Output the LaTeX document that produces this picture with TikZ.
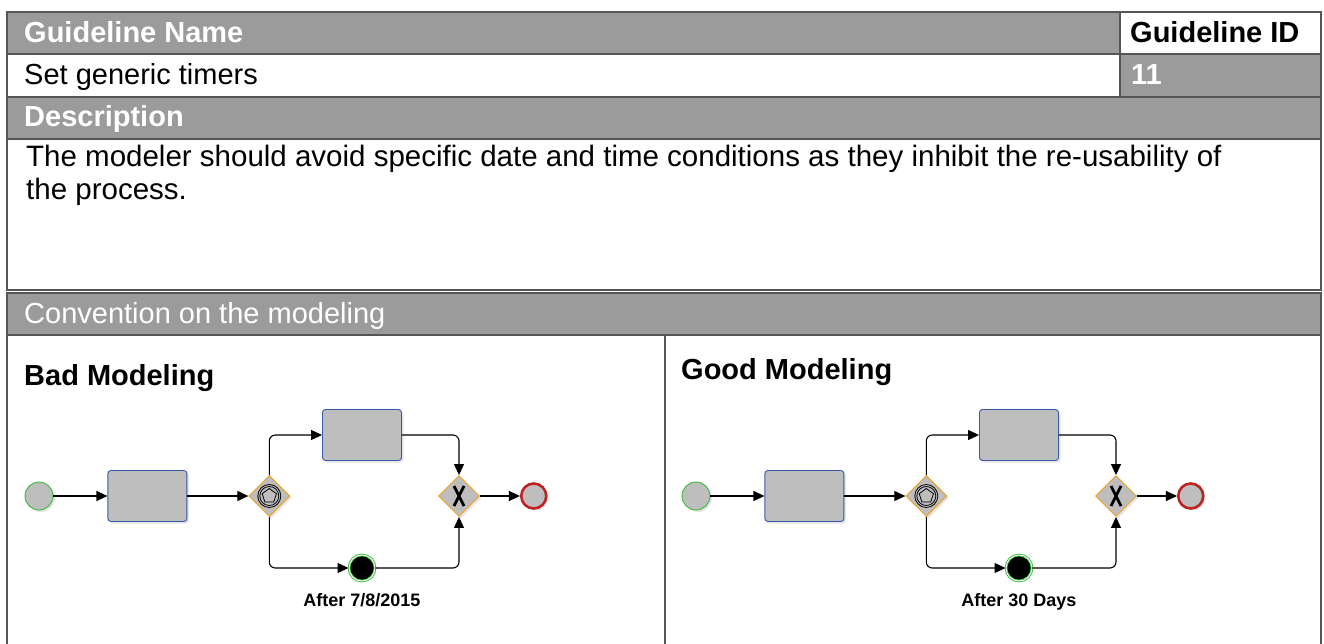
\documentclass[tikz,border=0pt]{standalone}
\usepackage{fontspec}
\setmainfont{Liberation Sans}
\usetikzlibrary{shapes.geometric, arrows.meta, positioning, shadows}

\definecolor{headgray}{RGB}{155,155,155}
\definecolor{framegray}{RGB}{85,85,85}
\definecolor{taskfill}{RGB}{190,190,190}
\definecolor{taskblue}{RGB}{55,90,170}
\definecolor{gateorange}{RGB}{240,160,35}
\definecolor{startgreen}{RGB}{60,185,60}
\definecolor{endred}{RGB}{190,35,35}

\begin{document}
\begin{tikzpicture}[x=1pt, y=-1pt,
        frame/.style={draw=framegray, line width=1.6pt},
        headtext/.style={anchor=base west, inner sep=0pt, text=white, font=\bfseries\fontsize{29}{34}\selectfont},
        celltext/.style={anchor=base west, inner sep=0pt, font=\fontsize{29}{34}\selectfont},
        task/.style={rectangle, rounded corners=3pt, draw=taskblue, fill=taskfill, line width=0.9pt, minimum width=79pt, minimum height=51pt, drop shadow={opacity=0.2, shadow xshift=2pt, shadow yshift=-2pt}},
        gateway/.style={diamond, draw=gateorange, fill=taskfill, line width=0.9pt, minimum width=41pt, minimum height=41pt, inner sep=0pt, drop shadow={opacity=0.2, shadow xshift=2pt, shadow yshift=-2pt}},
        startev/.style={circle, draw=startgreen, fill=taskfill, line width=0.9pt, minimum size=28pt, inner sep=0pt, drop shadow={opacity=0.2, shadow xshift=2pt, shadow yshift=-2pt}},
        endev/.style={circle, draw=endred, fill=taskfill, line width=2.6pt, minimum size=25pt, inner sep=0pt, drop shadow={opacity=0.2, shadow xshift=2pt, shadow yshift=-2pt}},
        timer/.style={circle, draw=startgreen, double=white, double distance=0.9pt, fill=black, line width=0.9pt, minimum size=26pt, inner sep=0pt},
        penta/.style={regular polygon, regular polygon sides=5, draw, line width=0.8pt, minimum size=15pt, inner sep=0pt},
        flow/.style={-{Triangle[length=11pt, width=10pt]}, line width=1.1pt, rounded corners=6pt},
        caption/.style={font=\bfseries\fontsize{18}{20}\selectfont, inner sep=0pt}
    ]

    % table cells
    \useasboundingbox (0,0) rectangle (1324,644);
    \fill[white] (0,0) rectangle (1324,644);
    \fill[headgray] (7,12) rectangle (1120,54);
    \fill[headgray] (1120,54) rectangle (1321,97);
    \fill[headgray] (7,97) rectangle (1321,139);
    \fill[headgray] (7,293) rectangle (1321,335);
    \draw[frame] (7,12) rectangle (1321,290);
    \draw[frame] (7,54) -- (1321,54) (7,97) -- (1321,97) (7,139) -- (1321,139);
    \draw[frame] (1120,12) -- (1120,97);
    \draw[frame] (7,646) |- (1321,293) -- (1321,646);
    \draw[frame] (7,335) -- (1321,335);
    \draw[frame] (665,335) -- (665,646);

    \node (namehead) [headtext] at (24,43) {Guideline Name};
    \node (idhead) [headtext, text=black] at (1130,43) {Guideline ID};
    \node (name) [celltext] at (24,85) {Set generic timers};
    \node (idval) [headtext] at (1131,85) {11};
    \node (deschead) [headtext] at (24,127) {Description};
    \node (desc) [celltext, font=\fontsize{29.5}{34}\selectfont] at (26,167) {The modeler should avoid specific date and time conditions as they inhibit the re-usability of};
    \node (desctail) [celltext, font=\fontsize{29.5}{34}\selectfont] at (26,200) {the process.};
    \node (convhead) [headtext, font=\fontsize{29}{34}\selectfont] at (24,323) {Convention on the modeling};
    \node (badhead) [headtext, text=black] at (24,385) {Bad Modeling};
    \node (goodhead) [headtext, text=black] at (681,379) {Good Modeling};

    % bad modeling: fixed date
    \node (bstart) [startev] at (39,496) {};
    \node (btask) [task, right=54pt of bstart] {};
    \node (bsplit) [gateway, right=61pt of btask] {};
    \node (bupper) [task] at (362,435) {};
    \node (bwait) [timer] at (362,568) {};
    \node (bjoin) [gateway] at (459,496) {};
    \node (bend) [endev, right=40pt of bjoin] {};
    \node (bdate) [caption, below=12pt of bwait] {After 7/8/2015};

    \draw[line width=0.8pt] (bsplit.center) circle (11.5pt) circle (9.5pt);
    \node (bpenta) [penta] at (bsplit.center) {};
    \draw[line width=2.8pt] ([shift={(-5,-10)}]bjoin.center) -- ([shift={(5,10)}]bjoin.center)
        ([shift={(5,-10)}]bjoin.center) -- ([shift={(-5,10)}]bjoin.center);

    \draw [flow] (bstart) -- (btask);
    \draw [flow] (btask) -- (bsplit);
    \draw [flow] (bsplit.north) |- (bupper.west);
    \draw [flow] (bupper.east) -| (bjoin.north);
    \draw [flow] (bsplit.south) |- (bwait.west);
    \draw [flow] (bwait.east) -| (bjoin.south);
    \draw [flow] (bjoin) -- (bend);

    % good modeling: relative delay
    \node (gstart) [startev] at (696,496) {};
    \node (gtask) [task, right=54pt of gstart] {};
    \node (gsplit) [gateway, right=61pt of gtask] {};
    \node (gupper) [task] at (1019,435) {};
    \node (gwait) [timer] at (1019,568) {};
    \node (gjoin) [gateway] at (1116,496) {};
    \node (gend) [endev, right=40pt of gjoin] {};
    \node (gdelay) [caption, below=12pt of gwait] {After 30 Days};

    \draw[line width=0.8pt] (gsplit.center) circle (11.5pt) circle (9.5pt);
    \node (gpenta) [penta] at (gsplit.center) {};
    \draw[line width=2.8pt] ([shift={(-5,-10)}]gjoin.center) -- ([shift={(5,10)}]gjoin.center)
        ([shift={(5,-10)}]gjoin.center) -- ([shift={(-5,10)}]gjoin.center);

    \draw [flow] (gstart) -- (gtask);
    \draw [flow] (gtask) -- (gsplit);
    \draw [flow] (gsplit.north) |- (gupper.west);
    \draw [flow] (gupper.east) -| (gjoin.north);
    \draw [flow] (gsplit.south) |- (gwait.west);
    \draw [flow] (gwait.east) -| (gjoin.south);
    \draw [flow] (gjoin) -- (gend);

\end{tikzpicture}
\end{document}
